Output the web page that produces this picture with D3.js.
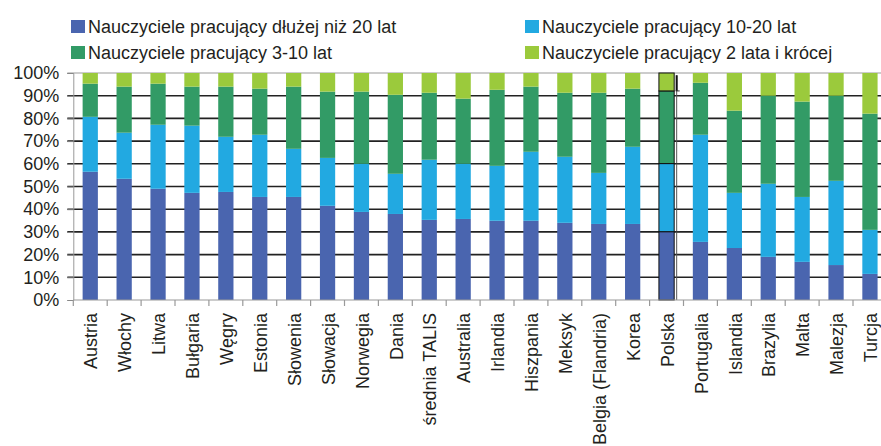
<!DOCTYPE html>
<html>
<head>
<meta charset="utf-8">
<script src="https://cdn.jsdelivr.net/npm/d3@7"></script>
<style>
  html, body { margin: 0; padding: 0; background: #fff; overflow: hidden; }
  svg { display: block; font-family: "Liberation Sans", Arial, sans-serif; }
</style>
</head>
<body>
<svg id="chart"></svg>
<script>
const categories = ['Austria', 'Włochy', 'Litwa', 'Bułgaria', 'Węgry', 'Estonia', 'Słowenia',
    'Słowacja', 'Norwegia', 'Dania', 'średnia TALIS', 'Australia', 'Irlandia', 'Hiszpania',
    'Meksyk', 'Belgia (Flandria)', 'Korea', 'Polska', 'Portugalia', 'Islandia', 'Brazylia',
    'Malta', 'Malezja', 'Turcja'];

const over20 = [56.5, 53.4, 49.0, 47.2, 47.6, 45.4, 45.4, 41.5, 38.8, 37.9, 35.3, 35.7,
    34.9, 34.9, 34.0, 33.5, 33.5, 30.1, 25.6, 22.9, 19.0, 16.8, 15.4, 11.5];
const from10to20 = [24.2, 20.3, 28.2, 29.6, 24.3, 27.4, 21.2, 21.1, 21.2, 17.7, 26.5, 24.3,
    24.2, 30.4, 29.1, 22.5, 34.0, 30.0, 47.2, 24.3, 32.2, 28.6, 37.1, 19.4];
const from3to10 = [14.6, 20.3, 18.1, 17.2, 22.1, 20.3, 27.4, 29.2, 31.8, 34.8, 29.5, 28.7,
    33.5, 28.7, 28.2, 35.3, 25.6, 32.0, 22.9, 36.2, 38.8, 42.0, 37.5, 51.2];
const upTo2 = [4.7, 6.0, 4.7, 6.0, 6.0, 6.9, 6.0, 8.2, 8.2, 9.6, 8.7, 11.3,
    7.4, 6.0, 8.7, 8.7, 6.9, 7.9, 4.3, 16.6, 10.0, 12.6, 10.0, 17.9];

const seriesNames = ['Nauczyciele pracujący dłużej niż 20 lat', 'Nauczyciele pracujący 10-20 lat',
    'Nauczyciele pracujący 3-10 lat', 'Nauczyciele pracujący 2 lata i krócej'];
const seriesKeys = ['over20', 'from10to20', 'from3to10', 'upTo2'];
const yTicks = [0, 10, 20, 30, 40, 50, 60, 70, 80, 90, 100];
const highlighted = 'Polska';

const colors = ['#4A65AF', '#22A9E1', '#329B66', '#9BCA3C'];

const width = 881;
const height = 446;
const margin = { top: 73, left: 73.3, bottom: 146 };
const step = 33.9;
const plotBottom = height - margin.bottom;

const rows = categories.map((c, i) => ({
    name: c,
    over20: over20[i],
    from10to20: from10to20[i],
    from3to10: from3to10[i],
    upTo2: upTo2[i]
}));

const svg = d3.select('#chart')
    .attr('width', width)
    .attr('height', height);

const x = d3.scaleBand()
    .domain(categories)
    .range([margin.left, margin.left + step * categories.length])
    .paddingInner(0.55)
    .paddingOuter(0.275);

const y = d3.scaleLinear()
    .domain([0, 100])
    .range([plotBottom, margin.top]);

const stack = d3.stack().keys(seriesKeys);
const stacked = stack(rows);

// gridlines (behind bars)
svg.append('g')
    .selectAll('line')
    .data(yTicks.filter(t => t > 0 && t < 100))
    .enter().append('line')
    .attr('x1', margin.left - 6)
    .attr('x2', width)
    .attr('y1', d => y(d))
    .attr('y2', d => y(d))
    .style('stroke', '#222')
    .style('stroke-width', 1.6);

svg.append('line')
    .attr('x1', margin.left - 6)
    .attr('x2', width)
    .attr('y1', y(100))
    .attr('y2', y(100))
    .style('stroke', '#999')
    .style('stroke-width', 1.2);

// bars
const layers = svg.append('g')
    .selectAll('g')
    .data(stacked)
    .enter().append('g')
    .style('fill', (d, i) => colors[i]);

layers.selectAll('rect')
    .data(d => d)
    .enter().append('rect')
    .attr('x', d => x(d.data.name))
    .attr('width', x.bandwidth())
    .attr('y', d => y(d[1]))
    .attr('height', d => y(d[0]) - y(d[1]))
    .style('stroke', d => d.data.name === highlighted ? '#111' : 'none')
    .style('stroke-width', 1);

// marker line beside the highlighted bar
const pl = stacked.map(s => s[categories.indexOf(highlighted)]);
const lineX = x(highlighted) + x.bandwidth() + 2.5;
svg.append('line')
    .attr('x1', lineX).attr('x2', lineX)
    .attr('y1', y(99)).attr('y2', plotBottom)
    .style('stroke', '#555')
    .style('stroke-width', 1);
svg.append('line')
    .attr('x1', lineX).attr('x2', lineX)
    .attr('y1', y(99)).attr('y2', y(pl[2][1]))
    .style('stroke', '#111')
    .style('stroke-width', 2);
svg.append('g')
    .selectAll('line')
    .data(pl.slice(0, 3))
    .enter().append('line')
    .attr('x1', lineX - 1).attr('x2', lineX + 3)
    .attr('y1', d => y(d[1])).attr('y2', d => y(d[1]))
    .style('stroke', '#333')
    .style('stroke-width', 1);

// y axis
const yAxis = svg.append('g')
    .attr('transform', `translate(${margin.left},0)`)
    .call(d3.axisLeft(y).tickValues(yTicks).tickFormat(d => d + '%').tickSize(6).tickPadding(8));
yAxis.select('.domain').style('stroke', '#999');
yAxis.selectAll('.tick line').style('stroke', '#888');
yAxis.selectAll('text')
    .style('font-size', '18px')
    .style('fill', '#231F20')
    .attr('x', -14);

// x axis
const boundaries = d3.range(categories.length + 1).map(i => margin.left + i * step);
svg.append('line')
    .attr('x1', margin.left).attr('x2', width)
    .attr('y1', plotBottom).attr('y2', plotBottom)
    .style('stroke', '#999')
    .style('stroke-width', 1.2);
svg.append('g')
    .selectAll('line')
    .data(boundaries)
    .enter().append('line')
    .attr('x1', d => d).attr('x2', d => d)
    .attr('y1', plotBottom).attr('y2', plotBottom + 6)
    .style('stroke', '#999')
    .style('stroke-width', 1.2);

svg.append('g')
    .selectAll('text')
    .data(categories)
    .enter().append('text')
    .attr('transform', d => `translate(${x(d) + x.bandwidth() / 2},${plotBottom + 13}) rotate(-90)`)
    .attr('text-anchor', 'end')
    .attr('dy', '0.4em')
    .style('font-size', '18px')
    .style('fill', '#231F20')
    .text(d => d);

// legend
const legendPos = [
    { x: 71, y: 20 },
    { x: 525, y: 20 },
    { x: 71, y: 46 },
    { x: 525, y: 46 }
];
const legend = svg.append('g')
    .selectAll('g')
    .data(seriesNames)
    .enter().append('g')
    .attr('transform', (d, i) => `translate(${legendPos[i].x},${legendPos[i].y})`);
legend.append('rect')
    .attr('width', 14)
    .attr('height', 13)
    .style('fill', (d, i) => colors[i]);
legend.append('text')
    .attr('x', 17)
    .attr('y', 12.5)
    .style('font-size', '18px')
    .style('fill', '#231F20')
    .text(d => d);
</script>
</body>
</html>
